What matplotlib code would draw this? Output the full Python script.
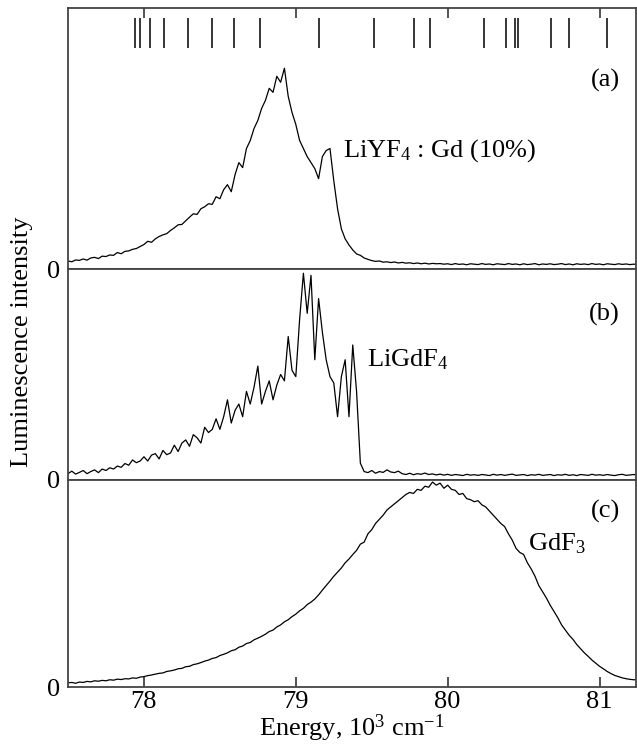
import numpy as np
import matplotlib
matplotlib.use("Agg")
import matplotlib.pyplot as plt

plt.rcParams['font.family'] = ['Liberation Serif', 'DejaVu Serif']
plt.rcParams['mathtext.fontset'] = 'custom'
plt.rcParams['mathtext.rm'] = 'Liberation Serif'
plt.rcParams['mathtext.it'] = 'Liberation Serif:italic'
plt.rcParams['mathtext.bf'] = 'Liberation Serif:bold'

# ---------------- data ----------------
energy_start = 77.5     # 10^3 cm^-1
energy_step = 0.025

# (a) LiYF4 : Gd (10%)
intensity_a = [
    0.040, 0.036, 0.045, 0.043, 0.050, 0.044, 0.055, 0.058, 0.052, 0.064,
    0.062, 0.070, 0.068, 0.082, 0.076, 0.088, 0.090, 0.098, 0.102, 0.112,
    0.122, 0.138, 0.133, 0.150, 0.162, 0.170, 0.176, 0.192, 0.205, 0.220,
    0.222, 0.240, 0.258, 0.275, 0.272, 0.300, 0.310, 0.325, 0.322, 0.360,
    0.350, 0.395, 0.420, 0.385, 0.470, 0.530, 0.505, 0.600, 0.640, 0.700,
    0.740, 0.800, 0.840, 0.900, 0.880, 0.960, 0.930, 1.000, 0.860, 0.780,
    0.720, 0.640, 0.600, 0.560, 0.530, 0.500, 0.450, 0.560, 0.590, 0.600,
    0.440, 0.300, 0.200, 0.150, 0.120, 0.095, 0.075, 0.068, 0.055, 0.048,
    0.042, 0.038, 0.040, 0.034, 0.036, 0.032, 0.035, 0.030, 0.033, 0.029,
    0.031, 0.027, 0.030, 0.026, 0.029, 0.025, 0.028, 0.026, 0.027, 0.024,
    0.026, 0.022, 0.027, 0.023, 0.025, 0.021, 0.026, 0.024, 0.022, 0.027,
    0.023, 0.025, 0.021, 0.026, 0.024, 0.022, 0.027, 0.023, 0.025, 0.021,
    0.026, 0.022, 0.024, 0.027, 0.021, 0.025, 0.023, 0.026, 0.022, 0.024,
    0.027, 0.022, 0.025, 0.021, 0.026, 0.023, 0.025, 0.022, 0.027, 0.023,
    0.025, 0.021, 0.026, 0.024, 0.022, 0.026, 0.023, 0.025, 0.022, 0.024,
    0.023,
]

# (b) LiGdF4
intensity_b = [
    0.030, 0.042, 0.028, 0.036, 0.045, 0.030, 0.040, 0.048, 0.035, 0.052,
    0.045, 0.058, 0.052, 0.066, 0.060, 0.078, 0.070, 0.095, 0.082, 0.090,
    0.110, 0.090, 0.118, 0.125, 0.100, 0.140, 0.120, 0.128, 0.165, 0.135,
    0.175, 0.190, 0.160, 0.215, 0.200, 0.175, 0.250, 0.225, 0.240, 0.290,
    0.240, 0.300, 0.380, 0.270, 0.330, 0.360, 0.300, 0.420, 0.360, 0.440,
    0.540, 0.360, 0.420, 0.470, 0.380, 0.450, 0.500, 0.470, 0.680, 0.520,
    0.490, 0.760, 0.980, 0.790, 0.970, 0.570, 0.860, 0.700, 0.570, 0.490,
    0.460, 0.300, 0.490, 0.570, 0.300, 0.640, 0.420, 0.080, 0.040, 0.035,
    0.045, 0.032, 0.040, 0.036, 0.048, 0.038, 0.035, 0.042, 0.030, 0.026,
    0.032, 0.025, 0.030, 0.027, 0.033, 0.026, 0.029, 0.024, 0.028, 0.023,
    0.027, 0.022, 0.026, 0.024, 0.021, 0.027, 0.023, 0.025, 0.022, 0.026,
    0.024, 0.021, 0.027, 0.023, 0.026, 0.022, 0.025, 0.028, 0.022, 0.024,
    0.026, 0.021, 0.025, 0.023, 0.027, 0.022, 0.024, 0.026, 0.021, 0.025,
    0.023, 0.027, 0.022, 0.025, 0.021, 0.026, 0.024, 0.022, 0.027, 0.023,
    0.025, 0.022, 0.026, 0.023, 0.021, 0.025, 0.027, 0.022, 0.024, 0.026,
    0.023,
]

# (c) GdF3
intensity_c = [
    0.020, 0.022, 0.018, 0.024, 0.022, 0.027, 0.025, 0.030, 0.028, 0.032,
    0.030, 0.035, 0.033, 0.038, 0.036, 0.040, 0.039, 0.044, 0.042, 0.048,
    0.050, 0.055, 0.058, 0.062, 0.066, 0.068, 0.075, 0.078, 0.082, 0.088,
    0.090, 0.098, 0.100, 0.108, 0.112, 0.118, 0.125, 0.130, 0.138, 0.142,
    0.152, 0.158, 0.165, 0.175, 0.180, 0.192, 0.198, 0.210, 0.215, 0.228,
    0.236, 0.245, 0.255, 0.268, 0.275, 0.290, 0.300, 0.315, 0.325, 0.340,
    0.352, 0.368, 0.380, 0.398, 0.410, 0.425, 0.445, 0.468, 0.490, 0.512,
    0.535, 0.555, 0.575, 0.600, 0.618, 0.640, 0.660, 0.690, 0.700, 0.740,
    0.760, 0.790, 0.810, 0.830, 0.855, 0.870, 0.885, 0.900, 0.915, 0.930,
    0.940, 0.935, 0.955, 0.950, 0.970, 0.965, 0.990, 0.975, 0.985, 0.960,
    0.975, 0.955, 0.950, 0.930, 0.935, 0.910, 0.905, 0.895, 0.900, 0.880,
    0.870, 0.850, 0.830, 0.810, 0.790, 0.775, 0.740, 0.710, 0.670, 0.650,
    0.640, 0.600, 0.570, 0.535, 0.490, 0.460, 0.430, 0.395, 0.365, 0.335,
    0.300, 0.275, 0.250, 0.230, 0.205, 0.185, 0.165, 0.148, 0.130, 0.115,
    0.100, 0.088, 0.075, 0.065, 0.056, 0.050, 0.044, 0.040, 0.037, 0.035,
    0.035,
]

# energy levels marked at the top of panel (a)
level_energies = [77.942, 77.976, 78.041, 78.131, 78.288, 78.446, 78.593,
                  78.763, 79.150, 79.516, 79.775, 79.886, 80.242, 80.387,
                  80.443, 80.462, 80.678, 80.799, 81.046]

x_ticks = [78, 79, 80, 81]
panel_tags = ["(a)", "(b)", "(c)"]
sample_names = ["LiYF$_4$ : Gd (10%)", "LiGdF$_4$", "GdF$_3$"]
name_pos = [(79.31, 0.59), (79.47, 0.57), (80.53, 0.69)]
tag_pos = [0.724, 0.784, 0.847]
y_tops = [1.3, 1.0, 1.0]

# ---------------- figure ----------------
W, H = 637, 746
FS = 19
fig = plt.figure(figsize=(W / 100, H / 100), dpi=100)

left = 68 / W
right = 636 / W
edges = [8, 269, 480, 687]
spine_col = "#444444"

series = [intensity_a, intensity_b, intensity_c]
axes = []
for k in range(3):
    top_px, bot_px = edges[k], edges[k + 1]
    ax = fig.add_axes([left, 1 - bot_px / H, right - left, (bot_px - top_px) / H])
    axes.append(ax)
    vals = np.array(series[k])
    e = energy_start + energy_step * np.arange(len(vals))
    ax.plot(e, vals, color="black", lw=0.9)
    ax.set_xlim(77.5, 81.24)
    ax.set_ylim(0, y_tops[k])
    ax.set_yticks([0])
    ax.set_yticklabels(["0"])
    ax.tick_params(axis='y', length=0, pad=6, labelsize=FS)
    ax.set_xticks(x_ticks)
    for s in ax.spines.values():
        s.set_color(spine_col)
        s.set_linewidth(1.3)
    ax.text(0.972, tag_pos[k], panel_tags[k], transform=ax.transAxes,
            ha="right", va="center", fontsize=FS)
    nx, ny = name_pos[k]
    ax.text(nx, ny, sample_names[k], ha="left", va="center", fontsize=FS)
    if k == 0:
        ax.tick_params(axis='x', top=True, bottom=False, labelbottom=False,
                       direction='in', length=7, width=1.3, color=spine_col)
        ax.vlines(level_energies, 0.847, 0.962, transform=ax.get_xaxis_transform(),
                  color="black", lw=1.1)
    elif k == 1:
        ax.tick_params(axis='x', top=False, bottom=False, labelbottom=False)
    else:
        ax.tick_params(axis='x', top=False, bottom=True, direction='in',
                       length=7, width=1.3, color=spine_col, labelsize=FS, pad=3)

fig.text((left + right) / 2, 1.5 / H, "Energy, 10$^3$ cm$^{-1}$",
         ha="center", va="bottom", fontsize=FS)
fig.text(0.034, 0.542, "Luminescence intensity", rotation=90,
         ha="center", va="center", fontsize=FS)

fig.savefig("out.png", dpi=100)
